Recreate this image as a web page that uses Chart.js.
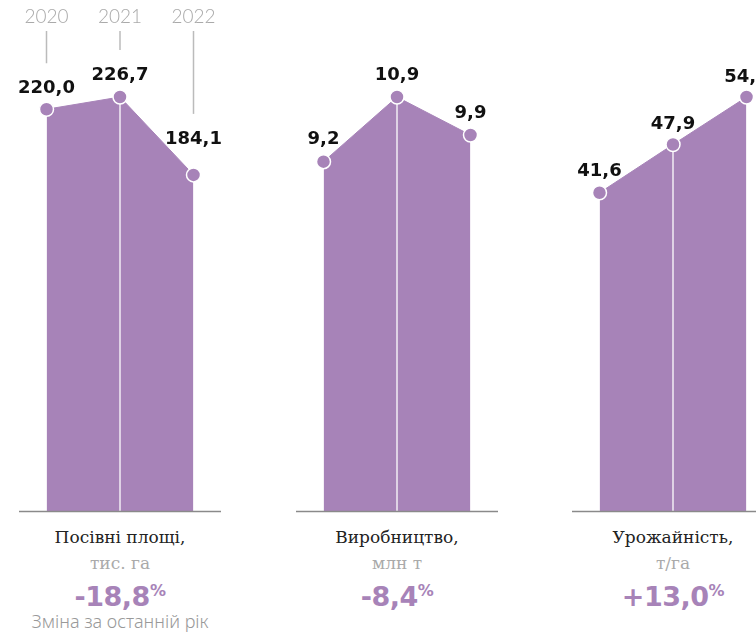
<!DOCTYPE html>
<html>
<head>
<meta charset="utf-8">
<script src="https://cdn.jsdelivr.net/npm/chart.js@4"></script>
<style>
    html, body { margin: 0; padding: 0; background: #fff; width: 756px; height: 635px; overflow: hidden; }
    #wrap { position: relative; width: 756px; height: 635px; overflow: hidden; }
    .panel { position: absolute; top: 0; width: 240px; height: 520px; }
    .caption { position: absolute; top: 522px; width: 240px; text-align: center; }
    .title { font-family: "DejaVu Serif", serif; font-size: 17px; color: #222; line-height: 30px; }
    .unit { font-family: "DejaVu Serif", serif; font-size: 17px; color: #aaa; line-height: 22px; }
    .change { font-family: "DejaVu Sans", sans-serif; font-weight: bold; font-size: 27px; color: #a783b8; line-height: 34px; letter-spacing: -0.5px; }
    .change sup { font-size: 16px; vertical-align: 10px; }
    .note { font-family: "Noto Sans", sans-serif; font-weight: 300; font-size: 18px; color: #999; line-height: 24px; position: relative; top: -5px; }
</style>
</head>
<body>
<div id="wrap">
    <div class="panel" style="left:0px"><canvas id="c0"></canvas></div>
    <div class="panel" style="left:277px"><canvas id="c1"></canvas></div>
    <div class="panel" style="left:553px"><canvas id="c2"></canvas></div>
    <div class="caption" style="left:0px" id="cap0"></div>
    <div class="caption" style="left:277px" id="cap1"></div>
    <div class="caption" style="left:553px" id="cap2"></div>
</div>
<script>
// data
var years = ['2020', '2021', '2022'];
var sownArea = [220.0, 226.7, 184.1];     // тис. га
var production = [9.2, 10.9, 9.9];        // млн т
var yieldValues = [41.6, 47.9, 54.1];     // т/га
var titles = ['Посівні площі,', 'Виробництво,', 'Урожайність,'];
var units = ['тис. га', 'млн т', 'т/га'];
var changes = ['-18,8', '-8,4', '+13,0'];

var purple = '#a783b8';

function fmt(v) {
    return v.toFixed(1).replace('.', ',');
}

// draws value labels, the white middle line, the baseline and (panel 1) the years
var panelPlugin = {
    id: 'panelDecor',
    beforeDatasetDraw: function (chart) {
        var meta = chart.getDatasetMeta(0);
        var p = meta.data[1];
        var ctx = chart.ctx;
        ctx.save();
        ctx.strokeStyle = 'rgba(255,255,255,0.85)';
        ctx.lineWidth = 1.5;
        ctx.beginPath();
        ctx.moveTo(p.x, p.y);
        ctx.lineTo(p.x, chart.chartArea.bottom);
        ctx.stroke();
        ctx.restore();
    },
    afterDraw: function (chart, args, opts) {
        var ctx = chart.ctx;
        var meta = chart.getDatasetMeta(0);
        var data = chart.data.datasets[0].data;
        var area = chart.chartArea;
        var mid = (area.left + area.right) / 2;
        ctx.save();

        // baseline
        ctx.strokeStyle = '#8a8a8a';
        ctx.lineWidth = 1.5;
        ctx.beginPath();
        ctx.moveTo(mid - 101, area.bottom);
        ctx.lineTo(mid + 101, area.bottom);
        ctx.stroke();

        // value labels
        ctx.font = 'bold 18px "DejaVu Sans", sans-serif';
        ctx.fillStyle = '#111';
        ctx.textAlign = 'center';
        ctx.textBaseline = 'middle';
        var lift = opts.lift || [21, 21, 21];
        meta.data.forEach(function (pt, i) {
            ctx.fillText(fmt(data[i]), pt.x, pt.y - lift[i]);
        });

        // year labels with guide lines
        if (opts.years) {
            ctx.font = '300 19px Lato, sans-serif';
            ctx.fillStyle = '#aaa';
            ctx.strokeStyle = '#bbb';
            ctx.lineWidth = 1.5;
            meta.data.forEach(function (pt, i) {
                ctx.fillText(chart.data.labels[i], pt.x, 17);
                ctx.beginPath();
                ctx.moveTo(pt.x, 31);
                ctx.lineTo(pt.x, pt.y - lift[i] - 25);
                ctx.stroke();
            });
        }
        ctx.restore();
    }
};

function makePanel(id, values, lift, showYears) {
    var ctx = document.getElementById(id).getContext('2d');
    return new Chart(ctx, {
        type: 'line',
        data: {
            labels: years,
            datasets: [{
                data: values,
                fill: 'origin',
                backgroundColor: purple,
                borderColor: purple,
                borderWidth: 1,
                tension: 0,
                pointRadius: 7,
                pointBackgroundColor: purple,
                pointBorderColor: '#fff',
                pointBorderWidth: 1.5,
                clip: false
            }]
        },
        options: {
            responsive: true,
            maintainAspectRatio: false,
            animation: false,
            layout: {
                padding: { left: 46.5, right: 46.5, top: 97, bottom: 7 }
            },
            scales: {
                x: { display: false, offset: false },
                y: { display: false, min: 0, max: Math.max.apply(null, values) }
            },
            plugins: {
                legend: { display: false },
                tooltip: { enabled: false },
                panelDecor: { lift: lift, years: showYears }
            }
        },
        plugins: [panelPlugin]
    });
}

makePanel('c0', sownArea, [21, 22, 36], true);
makePanel('c1', production, [22, 22, 22], false);
makePanel('c2', yieldValues, [21, 20, 20], false);

// captions under each panel
for (var i = 0; i < 3; i++) {
    var html = '<div class="title">' + titles[i] + '</div>' +
        '<div class="unit">' + units[i] + '</div>' +
        '<div class="change">' + changes[i] + '<sup>%</sup></div>';
    if (i === 0) {
        html += '<div class="note">Зміна за останній рік</div>';
    }
    document.getElementById('cap' + i).innerHTML = html;
}
</script>
</body>
</html>
